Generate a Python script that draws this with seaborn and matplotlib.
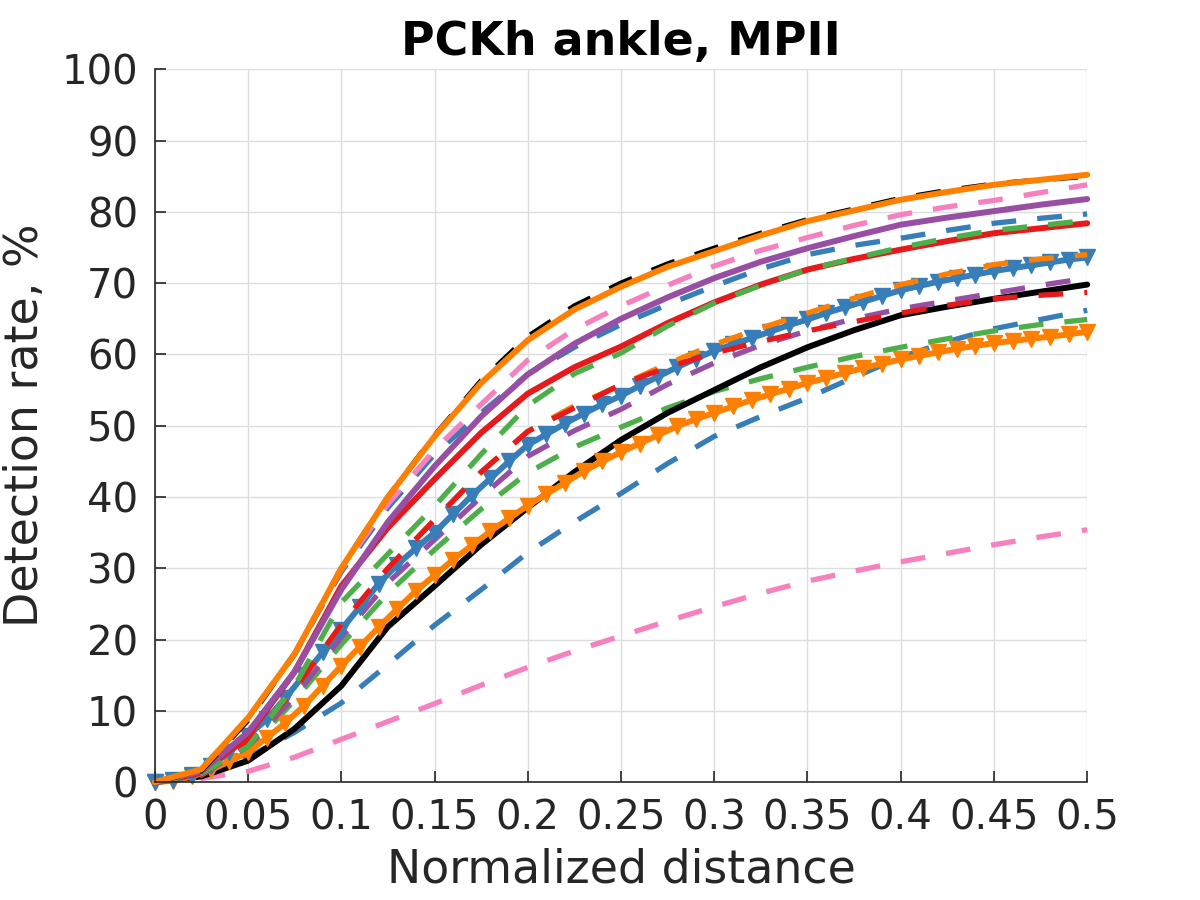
import numpy as np
import matplotlib
matplotlib.use("Agg")
import matplotlib.pyplot as plt
import seaborn as sns

# normalized distance grids
x_coarse = [0, 0.025, 0.05, 0.075, 0.1, 0.125, 0.15, 0.175, 0.2, 0.225, 0.25,
            0.275, 0.3, 0.325, 0.35, 0.375, 0.4, 0.425, 0.45, 0.475, 0.5]
x_fine = [i / 100 for i in range(51)]

# detection rate curves (%)
orange_solid = [0, 1.8, 9, 18, 30, 40, 48.5, 56, 62, 66.3, 69.5, 72.3, 74.5, 76.7, 78.7, 80.2, 81.7, 82.8, 83.8, 84.5, 85.2]
black_dash = [0, 1.6, 8.7, 18, 30, 40, 48.6, 56.3, 62.5, 66.8, 70, 72.7, 74.9, 77, 78.9, 80.4, 81.9, 83, 83.9, 84.5, 85.0]
pink_dash_hi = [0, 1.8, 9, 18, 29.8, 39, 46.6, 53, 59.2, 63.5, 66.8, 69.7, 72.4, 74.6, 76.4, 78.1, 79.6, 80.7, 81.6, 82.7, 83.8]
purple_solid = [0, 1.5, 7, 15.5, 27, 36.5, 44.3, 51.3, 57.2, 61.5, 65, 68, 70.7, 73, 74.9, 76.6, 78.2, 79.2, 80.1, 81, 81.8]
blue_dash_hi = [0, 1.8, 9, 18, 29.5, 38.5, 46, 51.8, 57.2, 61, 64.2, 67, 69.6, 72, 74, 75.3, 76.3, 77.4, 78.4, 79.1, 79.7]
green_dash_hi = [0, 1.2, 5, 13.5, 25.2, 32, 38.7, 46, 52.8, 57.3, 60.2, 64, 67.2, 69.7, 71.9, 73.5, 75, 76.3, 77.4, 78.1, 78.8]
red_solid = [0, 1.3, 6.5, 15.5, 27.5, 35.7, 42.5, 49, 54.5, 58.2, 61.1, 64.4, 67.3, 69.8, 71.9, 73.4, 74.7, 75.9, 77, 77.7, 78.4]
orange_dash = [0, 1, 5.5, 13, 22.1, 30, 36.8, 43.5, 49.2, 52.8, 55.7, 58.7, 61.4, 63.7, 65.8, 67.9, 69.8, 71.3, 72.6, 73.4, 74.0]
purple_dash_lo = [0, 1, 5, 12, 20.3, 28, 34, 40, 45.7, 49.3, 52.3, 55.8, 58.8, 61.3, 63.3, 65, 66.4, 67.5, 68.6, 69.7, 70.7]
black_solid = [0, 0.8, 3, 7.5, 13.5, 21.8, 27.5, 33.3, 38.5, 43.5, 48, 51.8, 55, 58.2, 61, 63.4, 65.5, 66.7, 67.8, 68.8, 69.8]
red_dash_lo = [0, 1, 5.5, 13, 22.1, 30, 36.8, 43.5, 49.2, 52.5, 55.8, 58.2, 60.2, 61.8, 63.3, 64.6, 65.8, 66.9, 67.8, 68.3, 68.7]
blue_dash_lo = [0, 0.8, 3.5, 7, 11.1, 16.5, 22, 27, 32.2, 36.5, 40.5, 44.7, 48.5, 51.3, 53.9, 56.8, 59.6, 61.8, 63.6, 64.9, 66.2]
green_dash_lo = [0, 1, 4.5, 11.5, 19.3, 26.5, 32.6, 38.3, 43.4, 47, 49.8, 52.5, 54.8, 56.6, 58.2, 59.7, 61, 62.2, 63.3, 64.2, 64.9]
pink_dash_lo = [0, 0.5, 1.5, 3.5, 6, 8.5, 11, 13.6, 16.1, 18.4, 20.5, 22.6, 24.6, 26.5, 28.2, 29.6, 30.9, 32.1, 33.3, 34.4, 35.4]

blue_marked = [0, 0.3, 1.0, 2.2, 4.2, 6.5, 8.8, 11.8, 15, 18.2, 21.4, 24.6, 27.8, 30.5, 32.8, 35,
               37.6, 40.2, 42.6, 45, 47.3, 48.8, 50.3, 51.7, 53, 54.2, 55.6, 56.9, 58.2, 59.4, 60.5,
               61.4, 62.3, 63.2, 64.1, 64.9, 65.8, 66.6, 67.4, 68.2, 69.0, 69.6, 70.2, 70.7, 71.2,
               71.7, 72.1, 72.5, 72.9, 73.3, 73.6]
orange_marked = [0, 0.2, 0.8, 1.7, 2.9, 4.2, 6.2, 8.3, 10.7, 13.5, 16.3, 19, 21.7, 24.3, 26.8, 29,
                 31.2, 33.2, 35.2, 37, 38.8, 40.4, 42, 43.6, 45, 46.3, 47.5, 48.7, 49.9, 50.9, 51.8,
                 52.7, 53.6, 54.4, 55.2, 56, 56.7, 57.4, 58.1, 58.7, 59.3, 59.8, 60.3, 60.8, 61.2,
                 61.6, 61.9, 62.2, 62.5, 62.8, 63.2]

x_ticks = [0, 0.05, 0.1, 0.15, 0.2, 0.25, 0.3, 0.35, 0.4, 0.45, 0.5]
x_tick_labels = ["0", "0.05", "0.1", "0.15", "0.2", "0.25", "0.3", "0.35", "0.4", "0.45", "0.5"]
y_ticks = [0, 10, 20, 30, 40, 50, 60, 70, 80, 90, 100]

RED, BLUE, GREEN = "#e41a1c", "#377eb8", "#4daf4a"
PURPLE, ORANGE, PINK = "#984ea3", "#ff7f00", "#f781bf"
DASH = (0, (4.7, 4.0))

# (x, y, color, linestyle, marker), drawn back to front
curves = [
    (x_coarse, pink_dash_lo, PINK, DASH, None),
    (x_coarse, blue_dash_lo, BLUE, DASH, None),
    (x_coarse, green_dash_lo, GREEN, DASH, None),
    (x_coarse, black_solid, "black", "-", None),
    (x_fine, orange_marked, ORANGE, "-", "v"),
    (x_coarse, purple_dash_lo, PURPLE, DASH, None),
    (x_fine, blue_marked, BLUE, "-", "v"),
    (x_coarse, orange_dash, ORANGE, DASH, None),
    (x_coarse, red_dash_lo, RED, DASH, None),
    (x_coarse, red_solid, RED, "-", None),
    (x_coarse, green_dash_hi, GREEN, DASH, None),
    (x_coarse, blue_dash_hi, BLUE, DASH, None),
    (x_coarse, purple_solid, PURPLE, "-", None),
    (x_coarse, pink_dash_hi, PINK, DASH, None),
    (x_coarse, black_dash, "black", DASH, None),
    (x_coarse, orange_solid, ORANGE, "-", None),
]

sns.set_theme(style="whitegrid")
plt.rcParams["font.family"] = ["DejaVu Sans"]

fig = plt.figure(figsize=(12, 9), dpi=100)
ax = fig.add_axes([0.129, 0.131, 0.777, 0.792])

for xs, ys, color, ls, marker in curves:
    lw = 4.3 if ls == "-" else 3.8
    kw = dict(color=color, linestyle=ls, linewidth=lw, ax=ax, clip_on=False)
    if marker:
        kw.update(marker=marker, markersize=12, markeredgecolor=color,
                  markerfacecolor=color, markeredgewidth=1)
    sns.lineplot(x=xs, y=ys, **kw)

ax.set_xlim(0, 0.5)
ax.set_ylim(0, 100)
ax.set_xticks(x_ticks)
ax.set_xticklabels(x_tick_labels)
ax.set_yticks(y_ticks)

ax.grid(True, color="#dedede", linewidth=1)
for side in ["top", "right"]:
    ax.spines[side].set_visible(False)
for side in ["left", "bottom"]:
    ax.spines[side].set_color("#262626")
    ax.spines[side].set_linewidth(1.2)

ax.tick_params(axis="both", direction="in", length=8, width=1.2, color="#262626",
               labelsize=29, labelcolor="#262626", pad=12, left=True, bottom=True)
ax.set_xlabel("Normalized distance", fontsize=33, color="#262626", labelpad=6)
ax.set_ylabel("Detection rate, %", fontsize=33, color="#262626", labelpad=10)
ax.set_title("PCKh ankle, MPII", fontsize=33, fontweight="bold", color="black", pad=10)

fig.savefig("out.png", dpi=100)
